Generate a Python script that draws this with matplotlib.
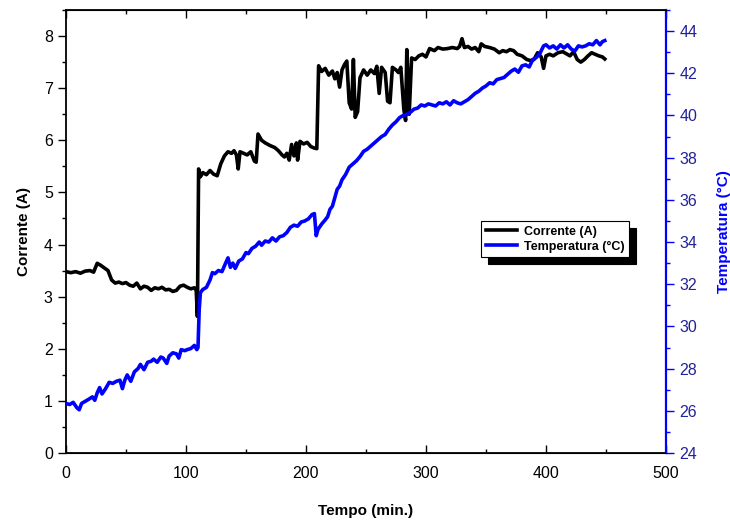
import matplotlib
matplotlib.use("Agg")
import matplotlib.pyplot as plt
from matplotlib.ticker import MultipleLocator

plt.rcParams['font.family'] = ['Liberation Sans', 'DejaVu Sans']

# Corrente (A) vs tempo (min.)
tempo_c = [0, 4, 8, 12, 16, 20, 23, 26, 29, 32, 35, 38, 41, 44, 47, 50, 53, 56, 59, 62,
           65, 68, 71, 74, 77, 80, 83, 86, 89, 92, 95, 98, 101, 104, 107, 108.5, 109.5, 110.5,
           112, 114, 117, 120, 123, 126, 129, 132, 135, 138, 140, 142, 143.5, 145, 148, 151,
           154, 157, 158.5, 160, 163, 166, 170, 174, 177, 180, 182, 184, 186, 188, 190, 192,
           193, 195, 198, 201, 204, 207, 209, 210.5, 213, 216, 219, 222, 224, 226, 228, 230,
           232, 234, 236, 238, 239.5, 241, 243, 245, 248, 251, 254, 257, 259, 261, 263, 266,
           268, 270, 272, 275, 277, 279, 281.5, 283, 284, 286, 288, 291, 294, 297, 300, 303,
           307, 310, 314, 318, 322, 326, 328, 330, 332, 335, 338, 341, 344, 346, 349, 353,
           357, 361, 364, 367, 370, 373, 376, 380, 384, 387, 390, 393, 396, 398, 400, 403,
           406, 410, 414, 417, 420, 423, 426, 429, 432, 435, 438, 441, 444, 447, 449]
corrente = [3.48, 3.46, 3.48, 3.45, 3.49, 3.50, 3.47, 3.64, 3.60, 3.55, 3.50, 3.32, 3.26,
            3.28, 3.25, 3.27, 3.22, 3.20, 3.26, 3.15, 3.20, 3.18, 3.12, 3.17, 3.15, 3.18,
            3.13, 3.14, 3.10, 3.12, 3.20, 3.22, 3.18, 3.15, 3.17, 3.12, 2.62, 5.45, 5.30,
            5.38, 5.34, 5.42, 5.35, 5.32, 5.55, 5.70, 5.78, 5.75, 5.80, 5.72, 5.45, 5.78,
            5.75, 5.72, 5.78, 5.60, 5.58, 6.12, 6.00, 5.95, 5.90, 5.86, 5.80, 5.72, 5.68,
            5.75, 5.62, 5.92, 5.70, 5.95, 5.62, 5.98, 5.93, 5.96, 5.88, 5.85, 5.84, 7.43,
            7.32, 7.38, 7.25, 7.33, 7.18, 7.30, 7.02, 7.35, 7.45, 7.52, 6.72, 6.60, 7.55,
            6.44, 6.55, 7.20, 7.35, 7.25, 7.35, 7.28, 7.42, 6.90, 7.40, 7.30, 6.75, 6.72,
            7.40, 7.35, 7.30, 7.40, 6.60, 6.38, 7.74, 6.50, 7.58, 7.55, 7.62, 7.65, 7.60,
            7.76, 7.72, 7.78, 7.75, 7.76, 7.78, 7.76, 7.80, 7.95, 7.78, 7.80, 7.75, 7.78,
            7.70, 7.85, 7.80, 7.78, 7.75, 7.68, 7.72, 7.70, 7.74, 7.72, 7.65, 7.62, 7.55,
            7.53, 7.55, 7.68, 7.60, 7.38, 7.62, 7.65, 7.62, 7.68, 7.70, 7.66, 7.62, 7.70,
            7.55, 7.50, 7.55, 7.62, 7.68, 7.65, 7.62, 7.60, 7.56]

# Temperatura (°C) vs tempo (min.)
tempo_t = [0, 3, 6, 9, 11, 13, 16, 19, 22, 24, 26, 28, 30, 33, 36, 39, 42, 45, 47, 49, 51,
           54, 57, 60, 62, 65, 68, 71, 73, 76, 79, 81, 84, 86, 89, 92, 94, 96, 99, 101, 104,
           107, 109, 110, 111, 112, 114, 117, 120, 122, 124, 127, 130, 133, 135, 137, 139,
           141, 144, 147, 150, 152, 155, 158, 161, 163, 166, 169, 172, 175, 178, 181, 184,
           187, 190, 193, 196, 199, 202, 205, 207, 208.5, 210, 213, 216, 218, 220, 222, 224,
           226, 228, 230, 233, 236, 239, 242, 245, 248, 251, 254, 257, 260, 263, 266, 269,
           272, 275, 278, 281, 284, 287, 290, 293, 296, 299, 302, 305, 308, 311, 314, 317,
           320, 323, 326, 329, 332, 335, 338, 341, 344, 347, 350, 353, 356, 359, 362, 365,
           368, 371, 374, 377, 380, 383, 386, 389, 392, 395, 398, 400, 403, 406, 409, 412,
           415, 418, 421, 424, 427, 430, 433, 436, 439, 442, 445, 447, 449]
temperatura = [26.35, 26.30, 26.40, 26.15, 26.05, 26.35, 26.45, 26.55, 26.66, 26.50, 26.85,
               27.10, 26.80, 27.05, 27.35, 27.30, 27.40, 27.45, 27.05, 27.45, 27.70, 27.40,
               27.85, 28.00, 28.20, 27.95, 28.30, 28.35, 28.45, 28.30, 28.55, 28.50, 28.25,
               28.60, 28.75, 28.70, 28.50, 28.90, 28.85, 28.90, 28.95, 29.10, 28.90, 29.00,
               30.80, 31.60, 31.75, 31.85, 32.20, 32.55, 32.50, 32.65, 32.60, 33.00, 33.25,
               32.80, 33.00, 32.75, 33.10, 33.20, 33.50, 33.45, 33.70, 33.80, 34.00, 33.85,
               34.05, 34.00, 34.20, 34.05, 34.25, 34.30, 34.45, 34.70, 34.80, 34.75, 34.95,
               35.00, 35.10, 35.30, 35.35, 34.30, 34.60, 34.85, 35.05, 35.20, 35.55, 35.70,
               36.10, 36.50, 36.65, 36.95, 37.20, 37.55, 37.70, 37.85, 38.05, 38.30, 38.40,
               38.55, 38.70, 38.85, 39.00, 39.10, 39.35, 39.55, 39.70, 39.90, 40.00, 40.05,
               40.15, 40.30, 40.35, 40.50, 40.45, 40.55, 40.50, 40.45, 40.60, 40.55, 40.65,
               40.50, 40.70, 40.60, 40.55, 40.65, 40.75, 40.90, 41.05, 41.15, 41.30, 41.40,
               41.55, 41.50, 41.70, 41.75, 41.80, 41.95, 42.10, 42.20, 42.05, 42.35, 42.40,
               42.30, 42.65, 42.75, 42.95, 43.30, 43.35, 43.20, 43.30, 43.15, 43.35, 43.20,
               43.35, 43.15, 43.05, 43.30, 43.25, 43.30, 43.40, 43.35, 43.55, 43.35, 43.50,
               43.55]

BLUE = "#0000ff"
NAVY = "#22229a"

fig = plt.figure(figsize=(7.3, 5.23), dpi=100)
ax = fig.add_axes([66 / 730, 70 / 523, 600 / 730, 443 / 523])
ax2 = ax.twinx()

l1, = ax.plot(tempo_c, corrente, color="black", lw=2.6, label="Corrente (A)")
l2, = ax2.plot(tempo_t, temperatura, color=BLUE, lw=2.6, label="Temperatura (°C)")

ax.set_xlim(0, 500)
ax.set_ylim(0, 8.5)
ax2.set_ylim(24, 45)

ax.xaxis.set_major_locator(MultipleLocator(100))
ax.xaxis.set_minor_locator(MultipleLocator(50))
ax.yaxis.set_major_locator(MultipleLocator(1))
ax.yaxis.set_minor_locator(MultipleLocator(0.5))
ax2.yaxis.set_major_locator(MultipleLocator(2))
ax2.yaxis.set_minor_locator(MultipleLocator(1))

ax.tick_params(axis="x", which="both", direction="in", top=True, labelsize=11.5, pad=9)
ax.tick_params(axis="x", which="major", length=6, width=1)
ax.tick_params(axis="x", which="minor", length=3, width=1)
ax.tick_params(axis="y", which="both", direction="out", labelsize=11.5, width=1)
ax.tick_params(axis="y", which="major", length=6)
ax.tick_params(axis="y", which="minor", length=3)
ax2.tick_params(axis="y", which="both", direction="out", colors=BLUE, labelcolor=NAVY,
                labelsize=11.5, width=1)
ax2.tick_params(axis="y", which="major", length=6)
ax2.tick_params(axis="y", which="minor", length=3)

for s in ax.spines.values():
    s.set_linewidth(1.3)
ax2.spines["right"].set_color(BLUE)
ax2.spines["right"].set_linewidth(1.6)
ax2.spines["left"].set_visible(False)

ax.set_xlabel("Tempo (min.)", fontsize=11, fontweight="bold", labelpad=17)
ax.set_ylabel("Corrente (A)", fontsize=11, fontweight="bold", labelpad=9)
ax2.set_ylabel("Temperatura (°C)", fontsize=11, fontweight="bold", color=BLUE, labelpad=14)

leg = ax2.legend(handles=[l1, l2], loc="upper left", bbox_to_anchor=(0.692, 0.523),
                 fancybox=False, edgecolor="black", framealpha=1,
                 shadow={"ox": 5, "oy": -5, "color": "black", "alpha": 1},
                 prop={"weight": "bold", "size": 9}, handlelength=2.5,
                 borderpad=0.35, labelspacing=0.25, handletextpad=0.6, borderaxespad=0)
leg.get_frame().set_linewidth(0.8)

fig.savefig("out.png", dpi=100)
